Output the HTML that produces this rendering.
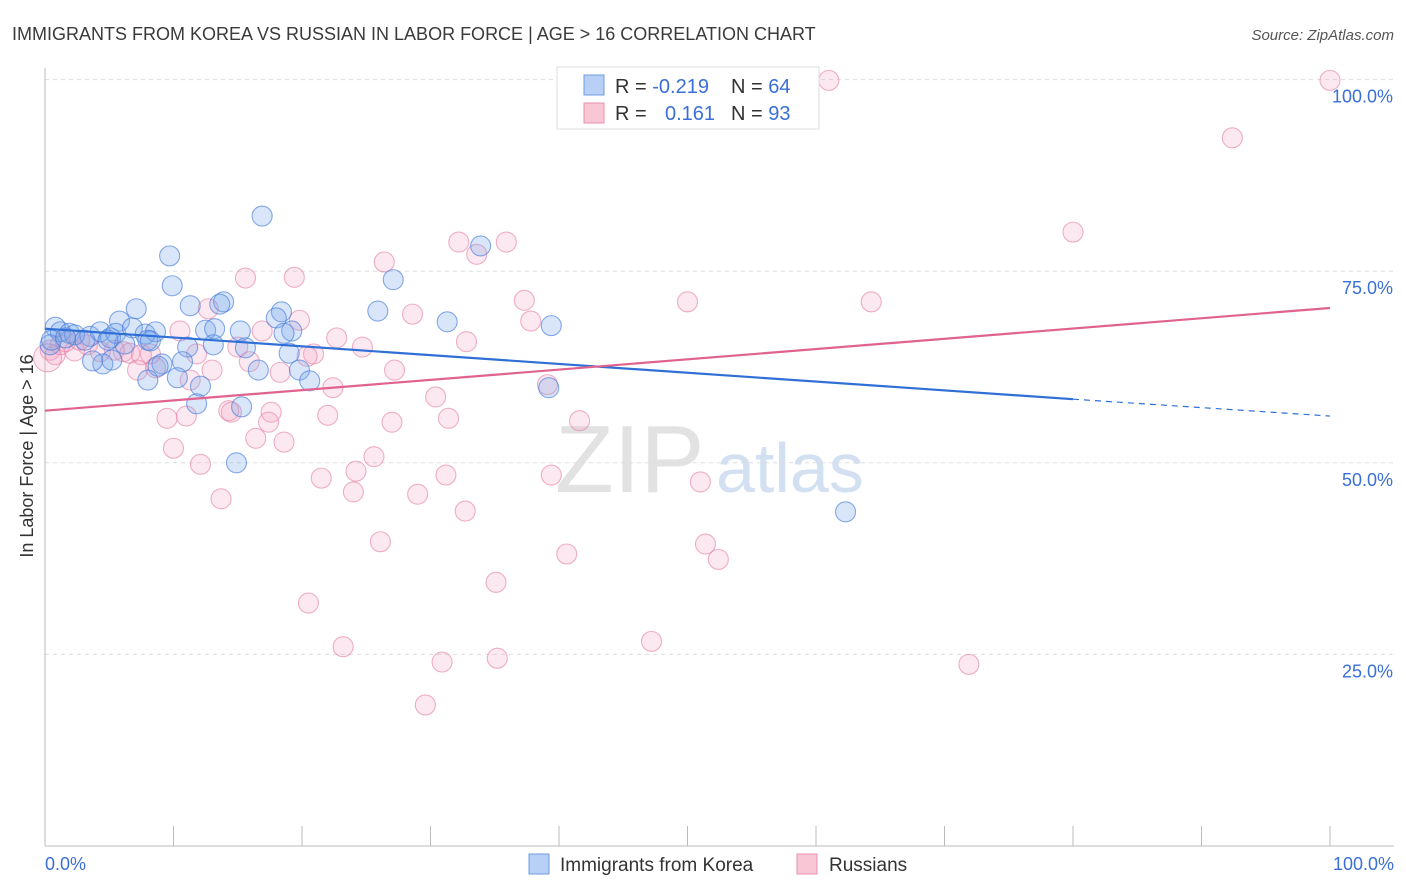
<!DOCTYPE html>
<html><head><meta charset="utf-8">
<style>
body{margin:0;background:#fff;font-family:"Liberation Sans",sans-serif;}
#wrap{position:relative;width:1406px;height:892px;overflow:hidden;}
svg text{font-family:"Liberation Sans",sans-serif;}
</style></head>
<body>
<div id="wrap">
<svg id="chart" width="1406" height="892">
<text x="12" y="40" font-size="18" fill="#3a3a3a">IMMIGRANTS FROM KOREA VS RUSSIAN IN LABOR FORCE | AGE &gt; 16 CORRELATION CHART</text>
<text x="1394" y="40" font-size="15" fill="#555" font-style="italic" text-anchor="end">Source: ZipAtlas.com</text>
<text x="33" y="456" font-size="18" fill="#333" text-anchor="middle" transform="rotate(-90 33 456)">In Labor Force | Age &gt; 16</text>
<text x="555" y="492" font-size="96" fill="#e2e2e2" font-family="Liberation Serif">ZIP</text>
<text x="716" y="492" font-size="70" fill="#d3e0f2">atlas</text>
<g id="grid"></g><g id="pts"></g><g id="trend"></g>
<g>
<rect x="557" y="67" width="262" height="62" fill="#fff" stroke="#ddd"/>
<rect x="584" y="75" width="20" height="20" fill="#b8d0f5" stroke="#6d9be0"/>
<rect x="584" y="103" width="20" height="20" fill="#f9c6d6" stroke="#e890aa"/>
<text x="615" y="93" font-size="20" fill="#333">R = <tspan fill="#3a6fd8">-0.219</tspan><tspan x="731">N = </tspan><tspan fill="#3a6fd8">64</tspan></text>
<text x="615" y="120" font-size="20" fill="#333">R = <tspan x="665" fill="#3a6fd8">0.161</tspan><tspan x="731">N = </tspan><tspan fill="#3a6fd8">93</tspan></text>
</g>
<g>
<rect x="529" y="854" width="20" height="20" fill="#b8d0f5" stroke="#6d9be0"/>
<text x="560" y="871" font-size="19" fill="#333">Immigrants from Korea</text>
<rect x="797" y="854" width="20" height="20" fill="#f9c6d6" stroke="#e890aa"/>
<text x="829" y="871" font-size="19" fill="#333">Russians</text>
</g>
<text x="45" y="870" font-size="18" fill="#3a6fd8">0.0%</text>
<text x="1394" y="870" font-size="18" fill="#3a6fd8" text-anchor="end">100.0%</text>
</svg>
</div>
<script>
const yTicks=[100,75,50,25];
const yTickLabels=["100.0%","75.0%","50.0%","25.0%"];
const xTickVals=[0,10,20,30,40,50,60,70,80,90,100];
const koreaX=[16.9,9.7,33.9,27.1,9.9,7.1,11.3,13.9,13.6,25.9,18.4,18.0,31.3,39.4,5.8,0.8,1.2,1.9,2.3,3.5,4.3,5.1,5.5,6.8,7.8,8.6,8.0,8.2,12.5,13.2,15.2,19.2,18.6,11.1,13.1,15.6,6.2,4.9,3.1,0.4,19.0,10.7,9.1,8.8,4.5,3.7,5.2,16.6,19.8,10.3,8.0,12.1,20.6,39.2,11.8,15.3,14.9,62.3,0.5,1.6];
const koreaY=[82.2,77.0,78.3,73.9,73.1,70.1,70.5,71.0,70.7,69.8,69.7,68.9,68.4,67.9,68.5,67.7,67.1,66.9,66.7,66.5,67.1,66.3,66.9,67.6,66.8,67.1,66.0,65.9,67.3,67.5,67.2,67.2,66.9,65.1,65.4,65.0,65.5,66.0,66.0,65.4,64.3,63.2,62.9,62.6,62.9,63.3,63.4,62.1,62.1,61.1,60.8,60.0,60.7,59.8,57.7,57.3,50.0,43.6,66.0,66.3];
const rusX=[59.3,61.0,100,92.4,80.0,32.2,35.9,33.6,26.4,15.6,19.4,37.3,50.0,64.3,12.7,28.6,19.8,37.8,10.5,16.9,22.7,32.8,24.7,15.0,11.8,20.9,20.4,2.3,6.1,6.6,8.2,5.4,7.5,15.9,27.2,7.2,13.0,18.3,8.6,11.3,22.4,39.1,30.4,17.6,14.5,14.3,11.0,22.0,27.0,31.4,41.6,9.5,17.4,10.0,16.4,18.6,25.6,12.1,24.2,31.2,21.5,39.4,51.0,29.0,24.0,13.7,32.7,26.1,40.6,51.4,52.4,35.1,20.5,47.2,23.2,30.9,35.2,71.9,29.6,0.4,0.8,1.2,1.6,3.3,4.3,2.7,0.2];
const rusY=[100.1,99.9,99.9,92.4,80.1,78.8,78.8,77.2,76.2,74.1,74.2,71.2,71.0,71.0,70.1,69.4,68.6,68.5,67.2,67.2,66.3,65.8,65.1,65.1,64.2,64.2,63.9,64.6,64.5,64.3,64.2,64.7,64.1,63.2,62.1,62.1,62.1,61.8,62.4,60.8,59.8,60.2,58.6,56.6,56.6,56.8,56.1,56.2,55.3,55.8,55.5,55.8,55.3,51.9,53.2,52.7,50.8,49.8,48.9,48.4,48.0,48.4,47.5,45.9,46.2,45.3,43.7,39.7,38.1,39.4,37.4,34.4,31.7,26.7,26.0,24.0,24.5,23.7,18.4,64.7,64.1,65.4,65.8,65.4,64.5,66.0,63.7];
const koreaTrendX=[0,80,100];
const koreaTrendY=[67.5,58.3,56.1];
const rusTrendX=[0,100];
const rusTrendY=[56.8,70.2];

const NS="http://www.w3.org/2000/svg";
const X=v=>45+v*12.85;
const Y=v=>846-v*7.664;
function mk(tag,attrs,parent){const e=document.createElementNS(NS,tag);for(const k in attrs)e.setAttribute(k,attrs[k]);parent.appendChild(e);return e;}
const grid=document.getElementById('grid');
yTicks.forEach((t,i)=>{
  const l=mk('line',{x1:45,x2:1394,y1:Y(t),y2:Y(t),stroke:'#ddd','stroke-dasharray':'4,4'},grid);
  
  
  const tx=mk('text',{x:1393,y:Y(t)+23,'font-size':18,fill:'#3a6fd8','text-anchor':'end'},grid);
  tx.textContent=yTickLabels[i];
  
  
});
const ax=mk('line',{x1:45,x2:45,y1:68,y2:846,stroke:'#bbb'},grid);


const bx=mk('line',{x1:45,x2:1394,y1:846,y2:846,stroke:'#bbb'},grid);


xTickVals.forEach(t=>{
  const l=mk('line',{x1:X(t),x2:X(t),y1:826,y2:846,stroke:'#bbb'},grid);
  
  
});
const pts=document.getElementById('pts');
rusX.forEach((v,i)=>{
  const c=mk('circle',{cx:X(v),cy:Y(rusY[i]),r:(i==rusX.length-1?14:10),fill:'rgba(244,165,195,0.25)',stroke:'rgba(228,125,160,0.6)','stroke-width':1.1},pts);
  
  
});
koreaX.forEach((v,i)=>{
  const c=mk('circle',{cx:X(v),cy:Y(koreaY[i]),r:10,fill:'rgba(120,165,235,0.28)',stroke:'rgba(70,125,220,0.65)','stroke-width':1.1},pts);
  
  
});
const tr=document.getElementById('trend');
const k1=mk('line',{x1:X(koreaTrendX[0]),y1:Y(koreaTrendY[0]),x2:X(koreaTrendX[1]),y2:Y(koreaTrendY[1]),stroke:'#2f6fd6','stroke-width':2.2},tr);


const k2=mk('line',{x1:X(koreaTrendX[1]),y1:Y(koreaTrendY[1]),x2:X(koreaTrendX[2]),y2:Y(koreaTrendY[2]),stroke:'#2f6fd6','stroke-width':1.2,'stroke-dasharray':'6,5'},tr);


const r1=mk('line',{x1:X(rusTrendX[0]),y1:Y(rusTrendY[0]),x2:X(rusTrendX[1]),y2:Y(rusTrendY[1]),stroke:'#e0628e','stroke-width':2.2},tr);


</script>
</body></html>
